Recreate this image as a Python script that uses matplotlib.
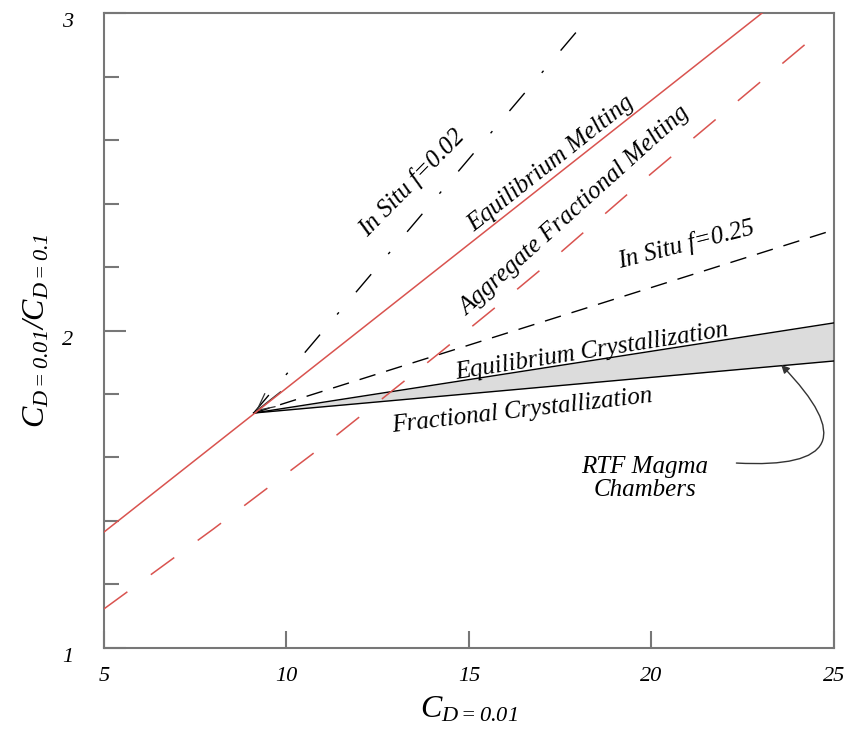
import matplotlib
matplotlib.use('Agg')
import matplotlib.pyplot as plt
import numpy as np

plt.rcParams['font.family'] = ['Liberation Serif', 'DejaVu Serif']
plt.rcParams['font.style'] = 'italic'
plt.rcParams['mathtext.fontset'] = 'custom'
plt.rcParams['mathtext.it'] = 'Liberation Serif:italic'
plt.rcParams['mathtext.rm'] = 'Liberation Serif:italic'

# common point where all curves start
x0, y0 = 9.1, 1.74

# equilibrium melting (red solid)
eqmelt_x = [5.0, 23.03]
eqmelt_y = [1.365, 3.0]

# aggregate fractional melting (red dashed)
aggmelt_x = [5.0, 8.0, 11.0, 14.2, 15.8, 17.0, 20.0, 24.3]
aggmelt_y = [1.123, 1.375, 1.636, 1.93, 2.08, 2.195, 2.495, 2.91]

# in situ f=0.02 (dash-dot) and f=0.25 (dashed)
insitu02_x = [x0, 18.05]
insitu02_y = [y0, 2.955]
insitu25_x = [x0, 25.0]
insitu25_y = [y0, 2.317]

# crystallization
cryst_x = [x0, 25.0]
eqcryst_y = [y0, 2.024]
fraccryst_y = [y0, 1.904]

red = '#d9534f'

fig = plt.figure(figsize=(8.45, 7.36), dpi=100)
ax = fig.add_axes([0.123, 0.1196, 0.864, 0.8627])

ax.fill_between(cryst_x, fraccryst_y, eqcryst_y, color='#dcdcdc', lw=0, zorder=1)
ax.plot(cryst_x, eqcryst_y, color='black', lw=1.0, zorder=3)
ax.plot(cryst_x, fraccryst_y, color='black', lw=1.0, zorder=3)

ax.plot(insitu25_x, insitu25_y, color='black', lw=1.0, dashes=(12, 8), zorder=3)
ax.plot(insitu02_x, insitu02_y, color='black', lw=1.0, dashes=(17, 19, 2, 19), zorder=3)
ax.plot(aggmelt_x, aggmelt_y, color=red, lw=1.1, dashes=(19, 19), zorder=3)

# arrow head pointing at the common point
ax.annotate('', xy=(x0, y0), xytext=(x0 + 0.8, y0 + 0.8 * 0.0907),
            arrowprops=dict(arrowstyle='->,head_length=0.6,head_width=0.3',
                            color='#333333', lw=0.9, mutation_scale=20), zorder=4)
ax.plot(eqmelt_x, eqmelt_y, color=red, lw=1.1, zorder=5)

# labels
lab = dict(fontsize=18, ha='center', va='center', rotation_mode='anchor', zorder=6)
ax.text(13.44, 2.465, 'In Situ f=0.02', rotation=45.5, **lab)
ax.text(17.25, 2.525, 'Equilibrium Melting', rotation=38.3, **lab)
ax.text(17.9, 2.375, 'Aggregate Fractional Melting', rotation=42, **lab)
ax.text(20.95, 2.27, 'In Situ f=0.25', rotation=14.2, **lab)
ax.text(18.37, 1.935, 'Equilibrium Crystallization', rotation=9, **lab)
ax.text(16.45, 1.745, 'Fractional Crystallization', rotation=6.6, **lab)
ax.text(19.82, 1.535, 'RTF Magma\nChambers', fontsize=18, ha='center', va='center',
        linespacing=1.05)

ax.annotate('', xy=(23.5, 1.898), xytext=(22.25, 1.583),
            arrowprops=dict(arrowstyle='-|>', connectionstyle='arc3,rad=1.3',
                            color='#333333', lw=1.0, mutation_scale=12))

ax.set_xlim(5, 25)
ax.set_ylim(1, 3)
ax.set_xticks([5, 10, 15, 20, 25])
ax.set_yticks([1, 2, 3])
ax.set_yticks(np.arange(1, 3.01, 0.2), minor=True)
ax.tick_params(axis='x', direction='in', length=12, width=1.5, color='#777777',
               labelsize=16, pad=14, top=False)
ax.tick_params(axis='y', which='major', direction='in', length=16, width=1.5,
               color='#777777', labelsize=16, pad=22, right=False)
ax.tick_params(axis='y', which='minor', direction='in', length=11, width=1.5,
               color='#777777', right=False)
for s in ax.spines.values():
    s.set_color('#777777')
    s.set_linewidth(1.5)
for t in ax.get_yticklabels():
    t.set_va('top')

ax.set_xlabel(r'$C_{D=0.01}$', fontsize=23, labelpad=6)
ax.set_ylabel(r'$C_{D=0.01}/C_{D=0.1}$', fontsize=23, labelpad=8)

fig.savefig('out.png', dpi=100)
